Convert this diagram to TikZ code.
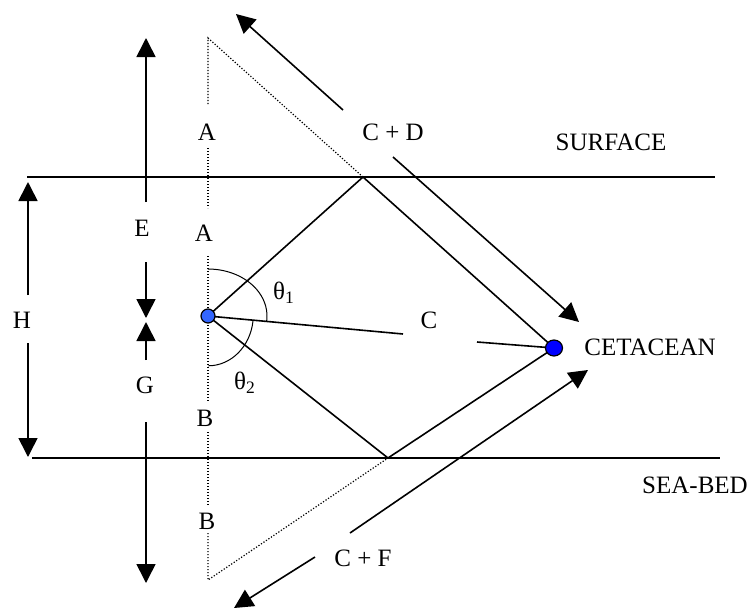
\documentclass[tikz,border=0pt]{standalone}
\usepackage{fontspec}
\setmainfont{Liberation Serif}
\usetikzlibrary{arrows.meta,shapes.geometric}
\definecolor{srcblue}{HTML}{3366FF}
\definecolor{cetblue}{HTML}{0000FF}
\begin{document}
\begin{tikzpicture}[x=0.5pt,y=-0.5pt,
  font=\fontsize{12.5}{15}\selectfont,
  ray/.style={line width=0.8pt},
  level/.style={line width=1pt},
  dots/.style={line width=0.6pt, dash pattern=on 0.6pt off 0.9pt},
  arr/.style={line width=0.8pt,-{Triangle[length=9.5pt,width=9.5pt]}},
  lbl/.style={inner sep=0pt},
  srcdot/.style={circle, draw, line width=0.6pt, fill=srcblue, inner sep=0pt, minimum size=7pt},
  cetdot/.style={ellipse, draw, line width=0.6pt, fill=cetblue, inner sep=0pt, minimum width=8.5pt, minimum height=8pt}]
\useasboundingbox (0,0) rectangle (750,611);
% key points
\coordinate (s) at (208,316);
\coordinate (c) at (554,348);
\coordinate (r1) at (363,177);
\coordinate (r2) at (388,458);
\coordinate (dtop) at (208,38);
\coordinate (dbot) at (208,580);
% surface and sea-bed
\coordinate (sl) at (27,177);  \coordinate (sr) at (715,177);
\coordinate (bl) at (32,458);  \coordinate (br) at (720,458);
\draw[level] (sl) -- (sr);
\draw[level] (bl) -- (br);
% labels
\node[lbl] (a1) at (207,132) {A};
\node[lbl] (a2) at (204,233) {A};
\node[lbl] (b1) at (205,418) {B};
\node[lbl] (b2) at (207,521) {B};
\node[lbl] (e) at (142,228) {E};
\node[lbl] (g) at (145,385) {G};
\node[lbl] (h) at (22,320) {H};
\node[lbl] (cl) at (429,320) {C};
\node[lbl] (cd) at (393,132) {C + D};
\node[lbl] (cf) at (363,558) {C + F};
\node[lbl] (t1) at (284,293) {θ\textsubscript{1}};
\node[lbl] (t2) at (245,383) {θ\textsubscript{2}};
\node[lbl] (surf) at (611,142) {SURFACE};
\node[lbl] (sea) at (695,485) {SEA-BED};
\node[lbl, anchor=west] (cet) at (584,347) {CETACEAN};
% dotted construction lines
\coordinate (d1) at (208,105); \coordinate (d2) at (208,148);
\coordinate (d3) at (208,208); \coordinate (d4) at (208,256);
\coordinate (d5) at (208,402); \coordinate (d6) at (208,432);
\coordinate (d7) at (208,505); \coordinate (d8) at (208,533);
\draw[dots] (r1) -- (dtop) -- (d1);
\draw[dots] (d2) -- (d3);
\draw[dots] (d4) -- (d5);
\draw[dots] (d6) -- (d7);
\draw[dots] (d8) -- (dbot) -- (r2);
% rays
\draw[ray] (s) -- (r1) -- (c);
\draw[ray] (s) -- (r2) -- (c);
\coordinate (c1) at (403,334); \coordinate (c2) at (477,342);
\draw[ray] (s) -- (c1);
\draw[ray] (c2) -- (c);
% angle arcs (y axis points down, so angles are mirrored)
\draw[line width=0.5pt] (208,269) arc[start angle=-90, end angle=6, x radius=59, y radius=47];
\draw[line width=0.5pt] (253,321) arc[start angle=7, end angle=90, x radius=45, y radius=51];
% C+D and C+F arrows
\coordinate (cd1s) at (343,110); \coordinate (cd1e) at (236,14);
\coordinate (cd2s) at (393,157); \coordinate (cd2e) at (579,322);
\coordinate (cf1s) at (350,533); \coordinate (cf1e) at (588,370);
\coordinate (cf2s) at (315,557); \coordinate (cf2e) at (234,608);
\draw[arr] (cd1s) -- (cd1e);
\draw[arr] (cd2s) -- (cd2e);
\draw[arr] (cf1s) -- (cf1e);
\draw[arr] (cf2s) -- (cf2e);
% H, E, G arrows
\coordinate (h1s) at (28,295); \coordinate (h1e) at (28,182);
\coordinate (h2s) at (28,343); \coordinate (h2e) at (28,457);
\coordinate (e1s) at (146,202); \coordinate (e1e) at (146,38);
\coordinate (e2s) at (146,262); \coordinate (e2e) at (146,318);
\coordinate (g1s) at (146,360); \coordinate (g1e) at (146,322);
\coordinate (g2s) at (146,422); \coordinate (g2e) at (146,583);
\draw[arr] (h1s) -- (h1e);
\draw[arr] (h2s) -- (h2e);
\draw[arr] (e1s) -- (e1e);
\draw[arr] (e2s) -- (e2e);
\draw[arr] (g1s) -- (g1e);
\draw[arr] (g2s) -- (g2e);
% dots on top
\node[srcdot] (src) at (s) {};
\node[cetdot] (whale) at (c) {};
\end{tikzpicture}
\end{document}
